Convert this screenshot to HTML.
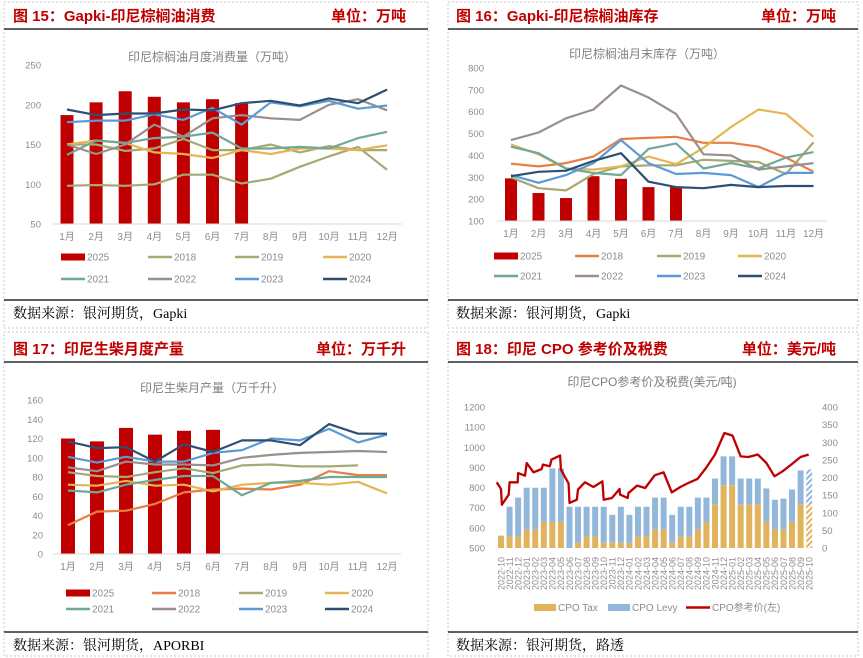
<!DOCTYPE html>
<html><head><meta charset="utf-8">
<style>
html,body{margin:0;padding:0;background:#fff;}
svg{display:block;font-family:"Liberation Sans","Noto Sans CJK SC",sans-serif;}
</style></head>
<body>
<svg id="root" width="863" height="658" viewBox="0 0 863 658" xmlns="http://www.w3.org/2000/svg"></svg>
<script>
const months = ["1月","2月","3月","4月","5月","6月","7月","8月","9月","10月","11月","12月"];
const legendYears = ["2025","2018","2019","2020","2021","2022","2023","2024"];

// Chart 15: consumption
const c15_2025 = [187,203,217,210,203,207,202];
const c15_2018 = [98,99,98,100,112,112,101,107,122,135,147,118];
const c15_2019 = [150,150,142,145,157,143,143,150,140,148,143,143];
const c15_2020 = [150,155,152,140,138,133,143,138,145,145,143,149];
const c15_2021 = [137,155,152,158,160,165,145,145,147,145,158,166];
const c15_2022 = [150,138,150,175,160,183,187,183,181,200,207,193];
const c15_2023 = [178,180,180,188,181,196,175,203,198,205,195,199];
const c15_2024 = [194,187,189,189,194,193,202,205,199,208,202,219];
const c15_ticks = [50,100,150,200,250];

// Chart 16: stock
const c16_2025 = [295,228,205,305,293,255,258];
const c16_2018 = [362,350,365,395,475,480,485,458,458,440,390,325];
const c16_2019 = [300,250,240,315,350,355,355,380,375,370,315,460];
const c16_2020 = [450,405,340,335,350,395,360,435,530,610,590,485];
const c16_2021 = [440,410,340,320,310,430,455,340,365,340,390,415];
const c16_2022 = [470,505,570,610,720,665,590,405,400,335,350,365];
const c16_2023 = [310,275,310,365,470,365,315,320,310,255,320,320];
const c16_2024 = [305,325,330,375,410,280,255,250,265,255,260,260];
const c16_ticks = [100,200,300,400,500,600,700,800];

// Chart 17: biodiesel
const c17_2025 = [120,117,131,124,128,129];
const c17_2018 = [30,44,45,52,64,67,68,67,72,86,82,82];
const c17_2019 = [85,81,80,85,89,84,92,93,91,91,92];
const c17_2020 = [72,71,76,71,72,65,72,74,74,72,75,63];
const c17_2021 = [66,64,72,77,81,81,61,74,76,80,80,80];
const c17_2022 = [90,86,96,93,93,92,100,103,105,106,107,106];
const c17_2023 = [101,95,101,96,96,105,108,120,118,130,116,124];
const c17_2024 = [117,110,111,96,114,106,118,118,113,135,125,125];
const c17_ticks = [0,20,40,60,80,100,120,140,160];

// Chart 18: CPO reference price & taxes
const cpoMonths = ["2022-10","2022-11","2022-12","2023-01","2023-02","2023-03","2023-04","2023-05","2023-06","2023-07","2023-08","2023-09","2023-10","2023-11","2023-12","2024-01","2024-02","2024-03","2024-04","2024-05","2024-06","2024-07","2024-08","2024-09","2024-10","2024-11","2024-12","2025-01","2025-02","2025-03","2025-04","2025-05","2025-06","2025-07","2025-08","2025-09","2025-10"];
const cpoTax = [35,33,33,52,52,74,74,74,0,15,33,33,15,15,15,15,33,33,52,52,15,33,33,52,74,124,178,178,124,124,124,74,52,52,74,124,124];
const cpoLevy = [0,84,110,119,119,97,152,152,117,102,84,84,102,79,102,79,84,84,91,91,79,84,84,91,69,73,82,82,73,73,73,95,85,88,92,96,99];
const priceT = [-0.5,0,0.1,0.9,1,1.95,2,2.8,3,3.8,4.75,4.9,5.7,5.9,6.9,7,7.9,8,8.85,9,9.8,10.8,11.85,12,12.95,13.85,13.9,14.8,14.9,15.9,16.85,17.95,19,19.95,20.95,21.9,22.95,23.95,25,26.1,27.05,28,28.9,30,31,31.95,32.9,33.9,35,35.95];
const priceV = [826,793,715,765,826,826,872,859,922,876,892,914,906,939,959,889,820,724,740,790,826,803,831,740,748,793,765,748,773,810,798,861,876,776,803,823,843,897,964,1071,1058,955,952,964,922,856,881,914,952,964];
const cpoLeftTicks = [500,600,700,800,900,1000,1100,1200];
const cpoRightTicks = [0,50,100,150,200,250,300,350,400];

const NS = "http://www.w3.org/2000/svg";
const root = document.getElementById('root');
function mk(tag, attrs, parent, text){
  const e = document.createElementNS(NS, tag);
  for (const k in attrs) e.setAttribute(k, attrs[k]);
  if (text !== undefined) e.textContent = text;
  (parent || root).appendChild(e);
  return e;
}
const RED = "#C00000";

function panel(px, py, pw, ph, headTitle, unit, source, hx, hlineY, flineY, name){
  const g = mk('g', {});
  
  
  const b = mk('rect', {x:px, y:py, width:pw, height:ph, fill:'none', stroke:'#c8c8c8', 'stroke-dasharray':'2,2'}, g);
  
  
  const t = mk('text', {x:hx, y:hlineY-8, fill:RED, 'font-size':15, 'font-weight':'bold'}, g, headTitle);
  
  
  const u = mk('text', {x:px+pw-22, y:hlineY-8, fill:RED, 'font-size':15, 'font-weight':'bold', 'text-anchor':'end'}, g, unit);
  
  
  const l1 = mk('line', {x1:px, x2:px+pw, y1:hlineY, y2:hlineY, stroke:'#000', 'stroke-width':1.3}, g);
  
  
  const l2 = mk('line', {x1:px, x2:px+pw, y1:flineY, y2:flineY, stroke:'#000', 'stroke-width':1.3}, g);
  
  
  const s = mk('text', {x:hx, y:flineY+18, fill:'#000', 'font-size':14, 'font-family':'"Liberation Serif","Noto Serif CJK SC",serif'}, g, source);
  
  
  return g;
}
panel(4,2,424,326,"图 15：Gapki-印尼棕榈油消费","单位：万吨","数据来源：银河期货，Gapki",13,29,300,'panel-consumption');
panel(448,2,410,326,"图 16：Gapki-印尼棕榈油库存","单位：万吨","数据来源：银河期货，Gapki",456,29,300,'panel-stock');
panel(4,332,424,324,"图 17：印尼生柴月度产量","单位：万千升","数据来源：银河期货，APORBI",13,362,632,'panel-biodiesel');
panel(448,332,410,324,"图 18：印尼 CPO 参考价及税费","单位：美元/吨","数据来源：银河期货，路透",456,362,632,'panel-cpo');

const COL = {"2018":"#A5A974","2019":"#A5A974","2020":"#E6B450","2021":"#6FA896","2022":"#9B8E8E","2023":"#5B9BD5","2024":"#2E4F74"};

function lineChart(cfg){
  const g = mk('g', {});
  
  
  const tMin = cfg.ticks[0], tMax = cfg.ticks[cfg.ticks.length-1];
  const Y = v => cfg.yBot - (v - tMin)/(tMax - tMin)*(cfg.yBot - cfg.yTop);
  const X = i => cfg.x0 + i*cfg.dx;
  const tt = mk('text', {x:cfg.titleX, y:cfg.titleY, 'text-anchor':'middle', fill:'#7f7f7f', 'font-size':12}, g, cfg.title);
  
  
  cfg.ticks.forEach(v => {
    const t = mk('text', {x:cfg.labX, y:Y(v)+3.5, 'text-anchor':'end', fill:'#8c8c8c', 'font-size':9.5}, g, String(v));
    
    
  });
  months.forEach((m,i) => {
    const t = mk('text', {x:X(i), y:cfg.yBot+16, 'text-anchor':'middle', fill:'#8c8c8c', 'font-size':10}, g, m);
    
    
  });
  cfg.bars.forEach((v,i) => {
    const r = mk('rect', {x:X(i)-cfg.bw/2, y:Y(v), width:cfg.bw, height:cfg.yBot-Y(v), fill:RED}, g);
    
    
  });
  const ax = mk('line', {x1:cfg.axL, x2:cfg.axR, y1:cfg.yBot, y2:cfg.yBot, stroke:'#d9d9d9'}, g);
  
  
  cfg.series.forEach(s => {
    const pts = s.data.map((v,i) => X(i).toFixed(1)+','+Y(v).toFixed(1)).join(' ');
    const p = mk('polyline', {points:pts, fill:'none', stroke:s.color, 'stroke-width':2.2, 'stroke-linejoin':'round'}, g);
    
    
  });
  legendYears.forEach((yr,k) => {
    const col = k % 4, row = Math.floor(k/4);
    const lx = cfg.legX[col], ly = cfg.legY[row];
    const c = yr === "2025" ? RED : cfg.colors[yr];
    const sw = yr === "2025" ? mk('rect', {x:lx, y:ly-3.5, width:24, height:7, fill:c}, g)
                             : mk('line', {x1:lx, x2:lx+24, y1:ly, y2:ly, stroke:c, 'stroke-width':2.5}, g);
    
    
    const t = mk('text', {x:lx+26, y:ly+3.5, fill:'#8c8c8c', 'font-size':10}, g, yr);
    
    
  });
}

lineChart({name:'chart-consumption', title:'印尼棕榈油月度消费量（万吨）', titleX:212, titleY:61,
  ticks:c15_ticks, yTop:65, yBot:224, x0:67, dx:29.1, bw:13, labX:41, axL:53, axR:402,
  bars:c15_2025, colors:COL,
  series:[{year:'2018',data:c15_2018,color:COL["2018"]},{year:'2019',data:c15_2019,color:COL["2019"]},
    {year:'2020',data:c15_2020,color:COL["2020"]},{year:'2021',data:c15_2021,color:COL["2021"]},
    {year:'2022',data:c15_2022,color:COL["2022"]},{year:'2023',data:c15_2023,color:COL["2023"]},
    {year:'2024',data:c15_2024,color:COL["2024"]}],
  legX:[61,148,235,323], legY:[257,279]});

const COL2 = Object.assign({}, COL, {"2018":"#E97E45"});
lineChart({name:'chart-stock', title:'印尼棕榈油月末库存（万吨）', titleX:647, titleY:58,
  ticks:c16_ticks, yTop:68, yBot:221, x0:511, dx:27.5, bw:12, labX:484, axL:497, axR:827,
  bars:c16_2025, colors:COL2,
  series:[{year:'2018',data:c16_2018,color:COL2["2018"]},{year:'2019',data:c16_2019,color:COL2["2019"]},
    {year:'2020',data:c16_2020,color:COL2["2020"]},{year:'2021',data:c16_2021,color:COL2["2021"]},
    {year:'2022',data:c16_2022,color:COL2["2022"]},{year:'2023',data:c16_2023,color:COL2["2023"]},
    {year:'2024',data:c16_2024,color:COL2["2024"]}],
  legX:[494,575,657,738], legY:[256,276]});

lineChart({name:'chart-biodiesel', title:'印尼生柴月产量（万千升）', titleX:212, titleY:392,
  ticks:c17_ticks, yTop:400, yBot:554, x0:68, dx:29, bw:14, labX:43, axL:53, axR:401,
  bars:c17_2025, colors:COL2,
  series:[{year:'2018',data:c17_2018,color:COL2["2018"]},{year:'2019',data:c17_2019,color:COL2["2019"]},
    {year:'2020',data:c17_2020,color:COL2["2020"]},{year:'2021',data:c17_2021,color:COL2["2021"]},
    {year:'2022',data:c17_2022,color:COL2["2022"]},{year:'2023',data:c17_2023,color:COL2["2023"]},
    {year:'2024',data:c17_2024,color:COL2["2024"]}],
  legX:[66,152,239,325], legY:[593,609]});

(function(){
  const g = mk('g', {});
  
  
  const yTop = 407, yBot = 548, x0 = 501, dx = 8.56, bw = 6;
  const YL = v => yBot - (v-500)/700*(yBot-yTop);
  const YR = v => yBot - v/400*(yBot-yTop);
  const X = i => x0 + i*dx;
  const tt = mk('text', {x:652, y:386, 'text-anchor':'middle', fill:'#7f7f7f', 'font-size':12}, g, '印尼CPO参考价及税费(美元/吨)');
  
  
  cpoLeftTicks.forEach(v => {
    const t = mk('text', {x:485, y:YL(v)+3.5, 'text-anchor':'end', fill:'#8c8c8c', 'font-size':9.5}, g, String(v));
    
    
  });
  cpoRightTicks.forEach(v => {
    const t = mk('text', {x:822, y:YR(v)+3.5, fill:'#8c8c8c', 'font-size':9.5}, g, String(v));
    
    
  });
  const defs = mk('defs', {}, g);
  const pt = mk('pattern', {id:'hatchT', width:4, height:4, patternUnits:'userSpaceOnUse', patternTransform:'rotate(45)'}, defs);
  mk('rect', {width:4, height:4, fill:'#fff'}, pt);
  mk('rect', {width:2, height:4, fill:'#E0B35C'}, pt);
  const pl = mk('pattern', {id:'hatchL', width:4, height:4, patternUnits:'userSpaceOnUse', patternTransform:'rotate(45)'}, defs);
  mk('rect', {width:4, height:4, fill:'#fff'}, pl);
  mk('rect', {width:2, height:4, fill:'#93B7DA'}, pl);
  cpoMonths.forEach((m,i) => {
    const last = i === cpoMonths.length-1;
    const rt = mk('rect', {x:X(i)-bw/2, y:YR(cpoTax[i]), width:bw, height:yBot-YR(cpoTax[i]), fill: last ? 'url(#hatchT)' : '#E0B35C'}, g);
    
    
    const top = cpoTax[i] + cpoLevy[i];
    const rl = mk('rect', {x:X(i)-bw/2, y:YR(top), width:bw, height:YR(cpoTax[i])-YR(top), fill: last ? 'url(#hatchL)' : '#93B7DA'}, g);
    
    
    const t = mk('text', {x:0, y:0, transform:'translate(' + (X(i)+3.3).toFixed(1) + ',557) rotate(-90)', 'text-anchor':'end', fill:'#8c8c8c', 'font-size':9}, g, m);
    
    
  });
  const pts = priceT.map((t,k) => X(t).toFixed(1) + ',' + YL(priceV[k]).toFixed(1)).join(' ');
  const p = mk('polyline', {points:pts, fill:'none', stroke:RED, 'stroke-width':2.3, 'stroke-linejoin':'round'}, g);
  
  
  const legs = [['CPO Tax','#E0B35C',534,'rect'],['CPO Levy','#93B7DA',608,'rect'],['CPO参考价(左)',RED,686,'line']];
  legs.forEach(L => {
    const sw = L[3] === 'rect' ? mk('rect', {x:L[2], y:604, width:22, height:7, fill:L[1]}, g)
                               : mk('line', {x1:L[2], x2:L[2]+24, y1:607.5, y2:607.5, stroke:L[1], 'stroke-width':2.5}, g);
    
    
    const t = mk('text', {x:L[2] + (L[3]==='rect'?24:26), y:611, fill:'#8c8c8c', 'font-size':10}, g, L[0]);
    
    
  });
})();
</script>
</body></html>
